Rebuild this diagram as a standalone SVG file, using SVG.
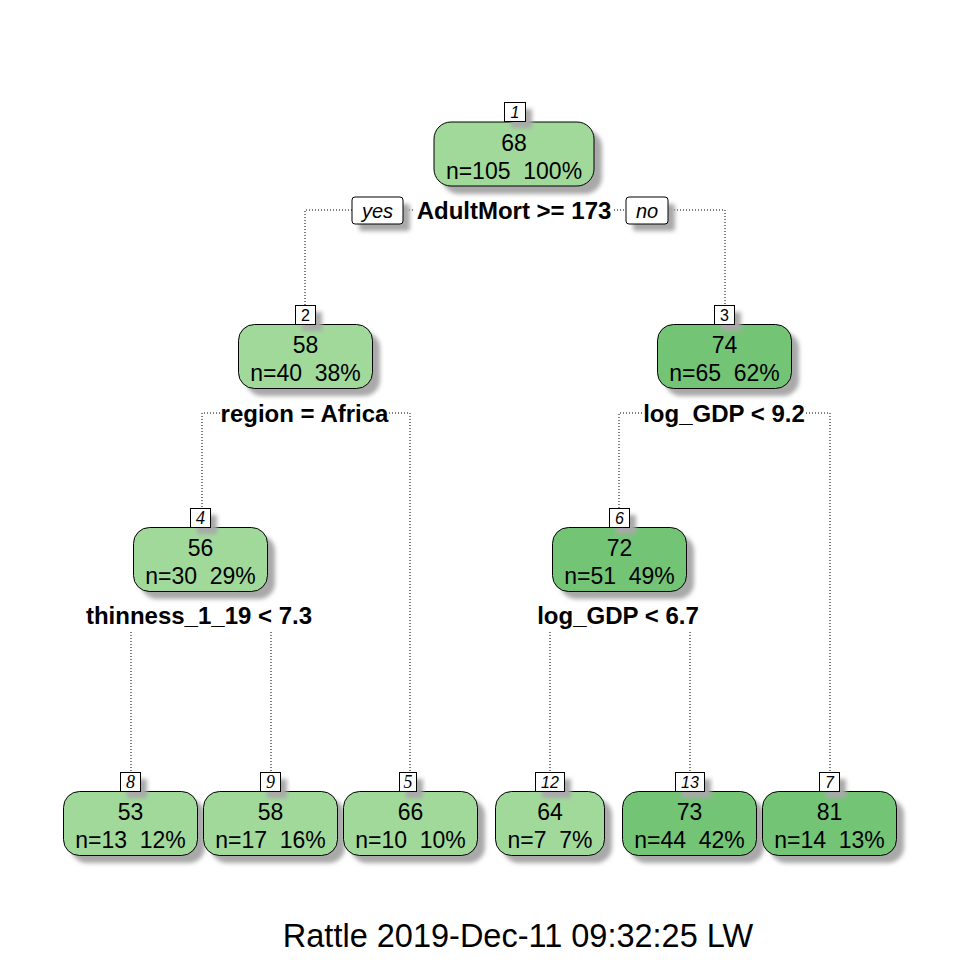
<svg xmlns="http://www.w3.org/2000/svg" width="960" height="960" viewBox="0 0 960 960">
<defs>
<filter id="sh" x="-20%" y="-20%" width="150%" height="160%">
<feGaussianBlur stdDeviation="2.2"/>
</filter>
</defs>
<style>
.bg{fill:#ffffff}
.shadow{fill:#a9a9a9;filter:url(#sh)}
.light{fill:#A1D99B;stroke:#000;stroke-width:1}
.dark{fill:#74C476;stroke:#000;stroke-width:1}
.lab{fill:#fff;stroke:#000;stroke-width:1}
.t{font-family:"Liberation Sans",Arial,sans-serif;font-size:23px;fill:#000;text-anchor:middle;white-space:pre}
.split{font-family:"Liberation Sans",Arial,sans-serif;font-size:24px;font-weight:bold;fill:#000;text-anchor:middle}
.num{font-family:"Liberation Sans",Arial,sans-serif;font-size:16px;font-style:italic;fill:#000;text-anchor:middle}
.nums{font-family:"Liberation Serif","Times New Roman",serif;font-size:18px;font-style:italic;fill:#000;text-anchor:middle}
.numu{font-family:"Liberation Sans",Arial,sans-serif;font-size:16px;fill:#000;text-anchor:middle}
.yn{font-family:"Liberation Sans",Arial,sans-serif;font-size:20px;font-style:italic;fill:#000;text-anchor:middle}
.conn{fill:none;stroke:#000;stroke-width:1;stroke-dasharray:1 2}
.foot{font-family:"Liberation Sans",Arial,sans-serif;font-size:32.5px;fill:#000;text-anchor:middle}
</style>
<rect class="bg" x="0" y="0" width="960" height="960"/>

<g id="connectors">
<path class="conn" d="M352,210 H305 V305"/>
<path class="conn" d="M403,210 H414"/>
<path class="conn" d="M614,210 H626"/>
<path class="conn" d="M668,210 H725 V305"/>
<path class="conn" d="M220,413 H202 V508"/>
<path class="conn" d="M389,413 H410 V772"/>
<path class="conn" d="M642,413 H619 V508"/>
<path class="conn" d="M806,413 H830 V772"/>
<path class="conn" d="M131,632 V772"/>
<path class="conn" d="M271,632 V772"/>
<path class="conn" d="M550,632 V772"/>
<path class="conn" d="M690,632 V772"/>
</g>

<g id="yesno">
<rect class="shadow" x="359" y="204" width="51" height="27" rx="3"/>
<rect class="lab" x="352" y="197" width="51" height="27" rx="3"/>
<text class="yn" x="377.5" y="218">yes</text>
<rect class="shadow" x="633" y="204" width="42" height="27" rx="3"/>
<rect class="lab" x="626" y="197" width="42" height="27" rx="3"/>
<text class="yn" x="647" y="218">no</text>
</g>

<g id="node1">
<rect class="shadow" x="442" y="130" width="160" height="64" rx="17"/>
<rect class="light" x="434" y="122" width="160" height="64" rx="17"/>
<rect class="shadow" x="511" y="109" width="21" height="19"/>
<rect class="lab" x="504.5" y="102.5" width="21" height="19"/>
<text class="num" x="515" y="118">1</text>
<text class="t" x="514" y="151">68</text>
<text class="t" x="514" y="179">n=105  100%</text>
<text class="split" x="514" y="219">AdultMort &gt;= 173</text>
</g>

<g id="node2">
<rect class="shadow" x="246" y="332" width="134" height="64" rx="16"/>
<rect class="light" x="238.5" y="324.5" width="134" height="64" rx="16"/>
<rect class="shadow" x="302" y="312" width="20" height="19"/>
<rect class="lab" x="295.5" y="305.5" width="20" height="19"/>
<text class="numu" x="305.5" y="321">2</text>
<text class="t" x="305.5" y="353">58</text>
<text class="t" x="305.5" y="381">n=40  38%</text>
<text class="split" x="304.5" y="422">region = Africa</text>
</g>

<g id="node3">
<rect class="shadow" x="665" y="332" width="134" height="64" rx="16"/>
<rect class="dark" x="657.5" y="324.5" width="134" height="64" rx="16"/>
<rect class="shadow" x="721" y="312" width="20" height="19"/>
<rect class="lab" x="714.5" y="305.5" width="20" height="19"/>
<text class="numu" x="724.5" y="321">3</text>
<text class="t" x="724.5" y="353">74</text>
<text class="t" x="724.5" y="381">n=65  62%</text>
<text class="split" x="724" y="422">log_GDP &lt; 9.2</text>
</g>

<g id="node4">
<rect class="shadow" x="141" y="535" width="134" height="64" rx="16"/>
<rect class="light" x="133.5" y="527.5" width="134" height="64" rx="16"/>
<rect class="shadow" x="197" y="515" width="20" height="19"/>
<rect class="lab" x="190.5" y="508.5" width="20" height="19"/>
<text class="nums" x="200.5" y="524">4</text>
<text class="t" x="200.5" y="556">56</text>
<text class="t" x="200.5" y="584">n=30  29%</text>
<text class="split" x="199" y="624">thinness_1_19 &lt; 7.3</text>
</g>

<g id="node6">
<rect class="shadow" x="560" y="535" width="134" height="64" rx="16"/>
<rect class="dark" x="552.5" y="527.5" width="134" height="64" rx="16"/>
<rect class="shadow" x="616" y="515" width="20" height="19"/>
<rect class="lab" x="609.5" y="508.5" width="20" height="19"/>
<text class="num" x="619.5" y="524">6</text>
<text class="t" x="619.5" y="556">72</text>
<text class="t" x="619.5" y="584">n=51  49%</text>
<text class="split" x="618" y="624">log_GDP &lt; 6.7</text>
</g>

<g id="node8">
<rect class="shadow" x="71" y="799" width="134" height="64" rx="16"/>
<rect class="light" x="63.5" y="791.5" width="134" height="64" rx="16"/>
<rect class="shadow" x="127" y="779" width="20" height="19"/>
<rect class="lab" x="120.5" y="772.5" width="20" height="19"/>
<text class="nums" x="130.5" y="788">8</text>
<text class="t" x="130.5" y="820">53</text>
<text class="t" x="130.5" y="848">n=13  12%</text>
</g>

<g id="node9">
<rect class="shadow" x="211" y="799" width="134" height="64" rx="16"/>
<rect class="light" x="203.5" y="791.5" width="134" height="64" rx="16"/>
<rect class="shadow" x="267" y="779" width="20" height="19"/>
<rect class="lab" x="260.5" y="772.5" width="20" height="19"/>
<text class="nums" x="270.5" y="788">9</text>
<text class="t" x="270.5" y="820">58</text>
<text class="t" x="270.5" y="848">n=17  16%</text>
</g>

<g id="node5">
<rect class="shadow" x="351" y="799" width="134" height="64" rx="16"/>
<rect class="light" x="343.5" y="791.5" width="134" height="64" rx="16"/>
<rect class="shadow" x="406" y="779" width="17" height="19"/>
<rect class="lab" x="399.5" y="772.5" width="17" height="19"/>
<text class="nums" x="408" y="788">5</text>
<text class="t" x="410.5" y="820">66</text>
<text class="t" x="410.5" y="848">n=10  10%</text>
</g>

<g id="node12">
<rect class="shadow" x="503" y="799" width="109" height="64" rx="16"/>
<rect class="light" x="495.5" y="791.5" width="109" height="64" rx="16"/>
<rect class="shadow" x="542" y="779" width="29" height="19"/>
<rect class="lab" x="535.5" y="772.5" width="29" height="19"/>
<text class="num" x="550" y="788">12</text>
<text class="t" x="550" y="820">64</text>
<text class="t" x="550" y="848">n=7  7%</text>
</g>

<g id="node13">
<rect class="shadow" x="630" y="799" width="134" height="64" rx="16"/>
<rect class="dark" x="622.5" y="791.5" width="134" height="64" rx="16"/>
<rect class="shadow" x="682" y="779" width="29" height="19"/>
<rect class="lab" x="675.5" y="772.5" width="29" height="19"/>
<text class="num" x="690" y="788">13</text>
<text class="t" x="689.5" y="820">73</text>
<text class="t" x="689.5" y="848">n=44  42%</text>
</g>

<g id="node7">
<rect class="shadow" x="770" y="799" width="134" height="64" rx="16"/>
<rect class="dark" x="762.5" y="791.5" width="134" height="64" rx="16"/>
<rect class="shadow" x="826" y="779" width="20" height="19"/>
<rect class="lab" x="819.5" y="772.5" width="20" height="19"/>
<text class="num" x="829.5" y="788">7</text>
<text class="t" x="829.5" y="820">81</text>
<text class="t" x="829.5" y="848">n=14  13%</text>
</g>

<text class="foot" x="518" y="947">Rattle 2019-Dec-11 09:32:25 LW</text>
</svg>
